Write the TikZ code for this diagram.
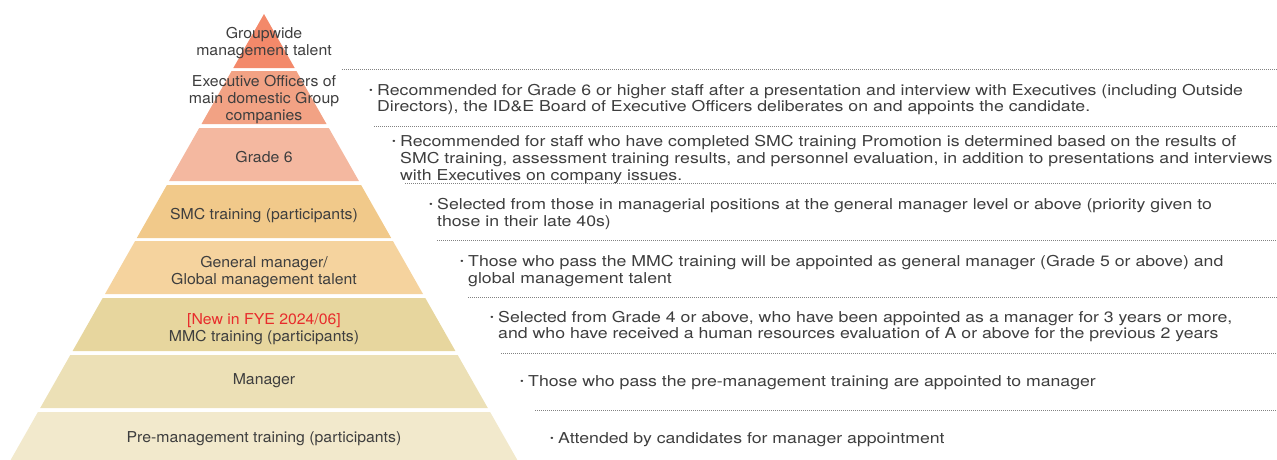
\documentclass[tikz,border=0pt]{standalone}
\usepackage{fontspec}
\setmainfont{TeX Gyre Heros}
\newfontfamily\tierfont[FakeStretch=1.055]{TeX Gyre Heros}
\newfontfamily\notefont[FakeStretch=1.18]{TeX Gyre Heros}
\definecolor{tierA}{RGB}{243,137,106}
\definecolor{tierB}{RGB}{242,162,132}
\definecolor{tierC}{RGB}{244,184,160}
\definecolor{tierD}{RGB}{241,201,138}
\definecolor{tierE}{RGB}{245,211,158}
\definecolor{tierF}{RGB}{231,214,158}
\definecolor{tierG}{RGB}{236,224,182}
\definecolor{tierH}{RGB}{242,233,204}
\definecolor{inktext}{RGB}{62,62,62}
\definecolor{newred}{RGB}{232,44,44}
\definecolor{dotline}{RGB}{130,130,130}
\newcommand{\notebullet}{\makebox[8pt][l]{\raisebox{0.25ex}{\fontsize{9}{9}\selectfont\textbullet}}}

\begin{document}
\begin{tikzpicture}[x=1pt,y=-1pt,
  tier/.style={align=center,inner sep=0pt,font=\tierfont\fontsize{15}{17}\selectfont,text=inktext},
  note/.style={anchor=west,align=left,inner sep=0pt,font=\notefont\fontsize{15}{16.8}\selectfont,text=inktext},
  sep/.style={dotline,line width=0.6pt,dash pattern=on 1pt off 1pt}
]
\clip (0,0) rectangle (1277,459);
\fill[tierA] (264,14) -- (294.7,68) -- (233.3,68) -- cycle;
\fill[tierB] (231.6,71) -- (296.4,71) -- (326.5,124) -- (201.5,124) -- cycle;
\fill[tierC] (199.2,128) -- (328.8,128) -- (358.9,181) -- (169.1,181) -- cycle;
\fill[tierD] (166.9,185) -- (361.1,185) -- (391.2,238) -- (136.8,238) -- cycle;
\fill[tierE] (135.1,241) -- (392.9,241) -- (423.0,294) -- (105.0,294) -- cycle;
\fill[tierF] (102.7,298) -- (425.3,298) -- (455.4,351) -- (72.6,351) -- cycle;
\fill[tierG] (70.3,355) -- (457.7,355) -- (487.8,408) -- (40.2,408) -- cycle;
\fill[tierH] (37.9,412) -- (490.1,412) -- (520.2,465) -- (7.8,465) -- cycle;

\node[tier] (groupwide) at (264,43) {Groupwide\\management talent};
\node[tier] (officers) at (264,100) {Executive Officers of\\main domestic Group\\companies};
\node[tier] (grade) at (264,157) {Grade 6};
\node[tier] (smc) at (264,216) {SMC training (participants)};
\node[tier] (general) at (264,272) {General manager/\\Global management talent};
\node[tier] (mmc) at (264,329) {{\color{newred}[New in FYE 2024/06]}\\MMC training (participants)};
\node[tier] (manager) at (264,381) {Manager};
\node[tier] (premgmt) at (264,439) {Pre-management training (participants)};

\draw[sep] (342,69) -- (1277,69);
\draw[sep] (374,126) -- (1277,126);
\draw[sep] (405,183) -- (1277,183);
\draw[sep] (437,240) -- (1277,240);
\draw[sep] (468,297) -- (1277,297);
\draw[sep] (501,353) -- (1277,353);
\draw[sep] (535,410) -- (1277,410);

\node[note] (noteofficers) at (369,99.5) {\notebullet Recommended for Grade 6 or higher staff after a presentation and interview with Executives (including Outside\\\hspace*{8pt}Directors), the ID\&E Board of Executive Officers deliberates on and appoints the candidate.};
\node[note] (notegrade) at (392,159.5) {\notebullet Recommended for staff who have completed SMC training Promotion is determined based on the results of\\\hspace*{8pt}SMC training, assessment training results, and personnel evaluation, in addition to presentations and interviews\\\hspace*{8pt}with Executives on company issues.};
\node[note] (notesmc) at (429,214) {\notebullet Selected from those in managerial positions at the general manager level or above (priority given to\\\hspace*{8pt}those in their late 40s)};
\node[note] (notegeneral) at (460,271) {\notebullet Those who pass the MMC training will be appointed as general manager (Grade 5 or above) and\\\hspace*{8pt}global management talent};
\node[note] (notemmc) at (490,326.5) {\notebullet Selected from Grade 4 or above, who have been appointed as a manager for 3 years or more,\\\hspace*{8pt}and who have received a human resources evaluation of A or above for the previous 2 years};
\node[note] (notemanager) at (520,383) {\notebullet Those who pass the pre-management training are appointed to manager};
\node[note] (notepremgmt) at (550,440) {\notebullet Attended by candidates for manager appointment};
\end{tikzpicture}
\end{document}
